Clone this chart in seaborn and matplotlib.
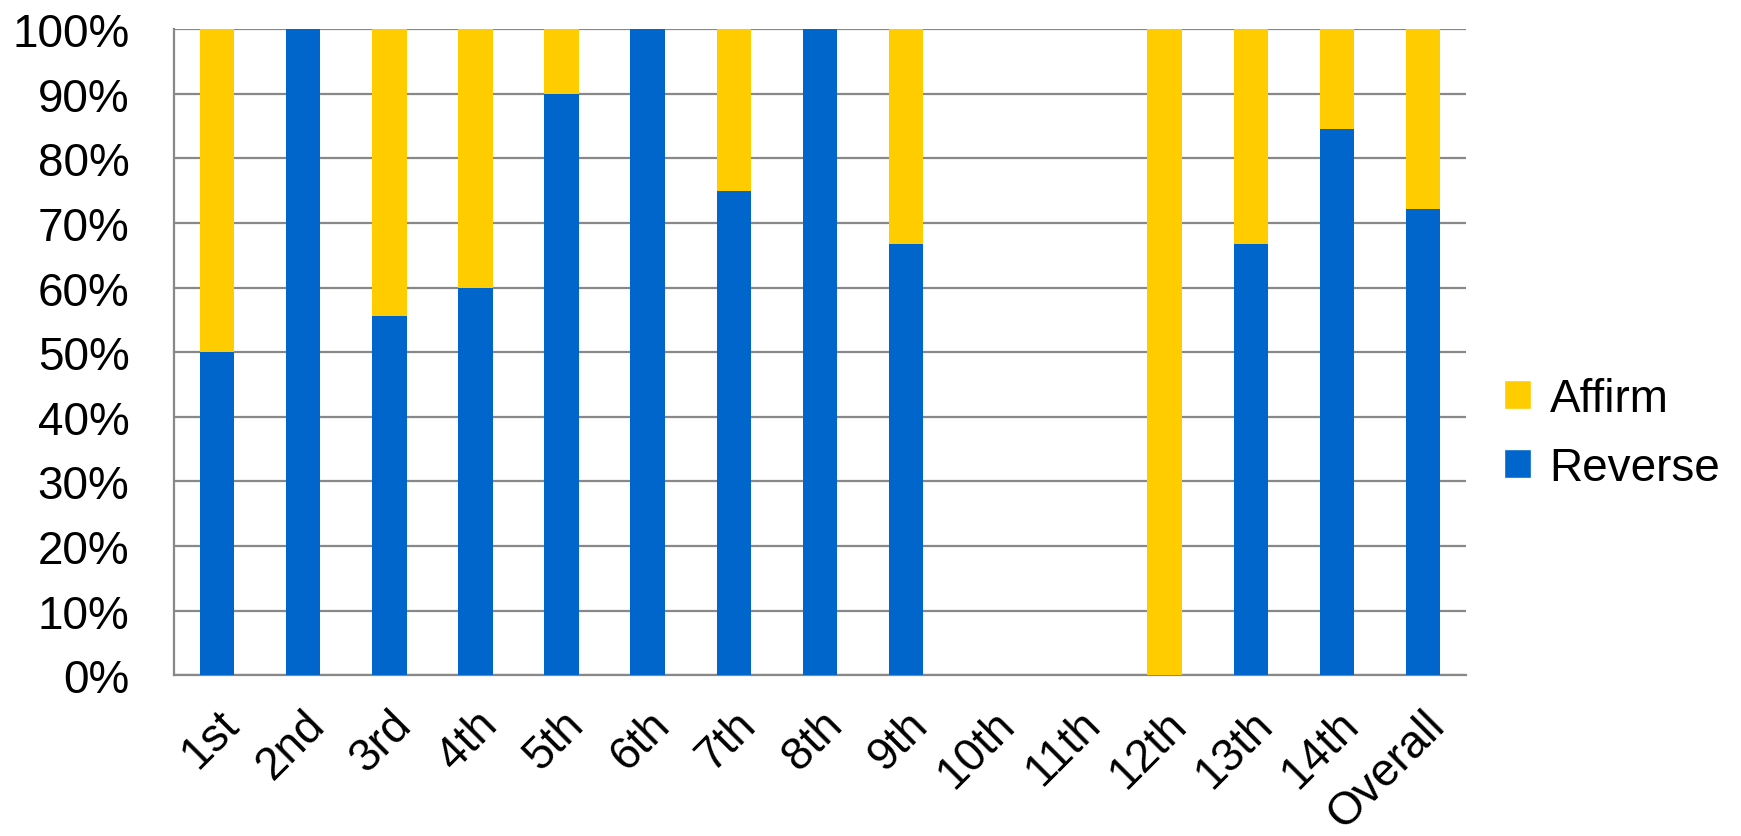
import matplotlib.pyplot as plt
import matplotlib.ticker as mticker
import numpy as np
import pandas as pd
import seaborn as sns
from matplotlib.patches import Patch

circuits = ["1st", "2nd", "3rd", "4th", "5th", "6th", "7th", "8th", "9th",
            "10th", "11th", "12th", "13th", "14th", "Overall"]
reverse = [50, 100, 55.6, 60, 90, 100, 75, 100, 66.7,
           np.nan, np.nan, 0, 66.7, 84.6, 72.2]
affirm = [50, 0, 44.4, 40, 10, 0, 25, 0, 33.3,
          np.nan, np.nan, 100, 33.3, 15.4, 27.8]

blue = "#0066CC"
yellow = "#FFCC00"
grey = "#888888"

df = pd.DataFrame({"circuit": circuits, "Reverse": reverse, "Affirm": affirm})
df["total"] = df["Reverse"] + df["Affirm"]

sns.set_style("white")
plt.rcParams["font.family"] = ["Liberation Sans", "DejaVu Sans"]
plt.rcParams["text.color"] = "black"

fig = plt.figure(figsize=(17.41, 8.37), dpi=100)
ax = fig.add_axes([0.0999, 0.192, 0.7422, 0.772])

# stacked: draw full height in yellow, then the Reverse part in blue over it
sns.barplot(data=df, x="circuit", y="total", order=circuits, color=yellow,
            width=0.4, saturation=1, linewidth=0, ax=ax, zorder=3)
sns.barplot(data=df, x="circuit", y="Reverse", order=circuits, color=blue,
            width=0.4, saturation=1, linewidth=0, ax=ax, zorder=4)

ax.set_xlim(-0.5, len(circuits) - 0.5)
ax.set_ylim(0, 100)
ax.set_xlabel("")
ax.set_ylabel("")

ax.yaxis.set_major_locator(mticker.MultipleLocator(10))
ax.yaxis.set_major_formatter(mticker.FuncFormatter(lambda v, p: f"{v:.0f}%"))
ax.grid(axis="y", color=grey, linewidth=1.6, zorder=0)
ax.set_axisbelow(True)

# tick marks sit at the category boundaries, labels at centres
ax.set_xticks(np.arange(-0.5, len(circuits), 1), minor=True)
ax.tick_params(axis="x", which="major", length=0, pad=19)
ax.tick_params(axis="x", which="minor", length=14, width=1.6, color=grey)
ax.tick_params(axis="y", length=14, width=1.6, color=grey, pad=18)
ax.tick_params(axis="both", labelsize=33, labelcolor="black")
for lab in ax.get_xticklabels():
    lab.set_rotation(45)
    lab.set_ha("right")
    lab.set_va("top")
    lab.set_rotation_mode("anchor")

for side in ["top", "right"]:
    ax.spines[side].set_visible(False)
for side in ["left", "bottom"]:
    ax.spines[side].set_color(grey)
    ax.spines[side].set_linewidth(1.6)

handles = [Patch(facecolor=yellow, label="Affirm"),
           Patch(facecolor=blue, label="Reverse")]
fig.legend(handles=handles, loc="center left", bbox_to_anchor=(0.84, 0.481),
           frameon=False, fontsize=33, handlelength=0.6, handleheight=0.6,
           handletextpad=0.4, labelspacing=0.55, labelcolor="black")

fig.savefig("out.png", dpi=100)
